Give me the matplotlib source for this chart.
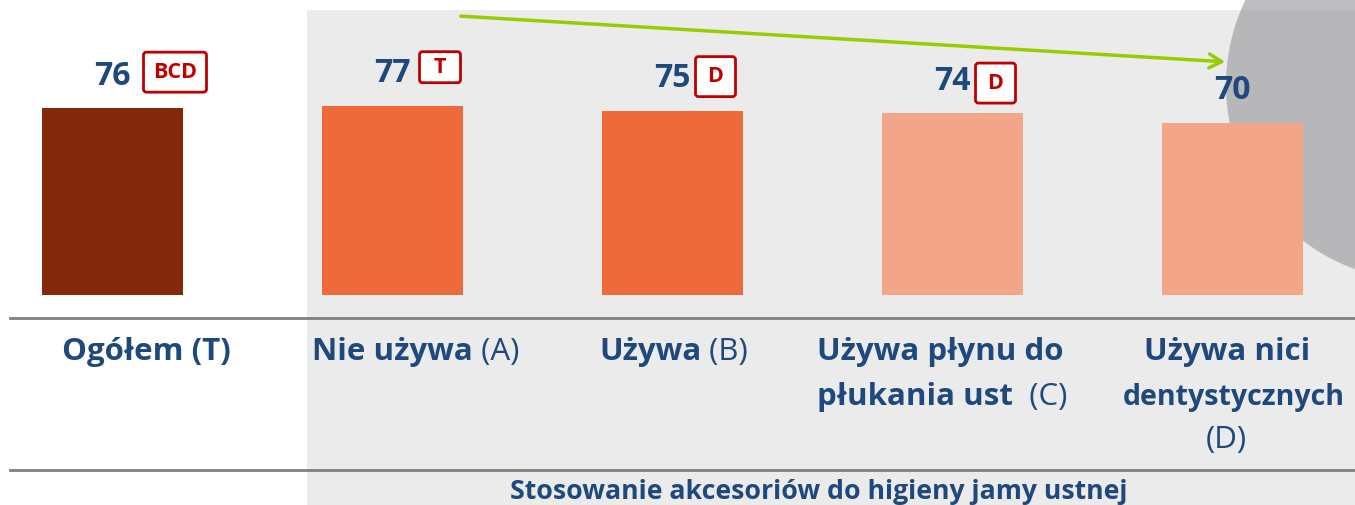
import matplotlib
matplotlib.use('Agg')
import matplotlib.pyplot as plt
import matplotlib.transforms as mtransforms
from matplotlib.patches import Rectangle, Circle, FancyArrowPatch, FancyBboxPatch
from matplotlib.lines import Line2D

plt.rcParams['font.family'] = ['Open Sans', 'DejaVu Sans']

# data
categories = ['Ogółem (T)', 'Nie używa (A)', 'Używa (B)',
              'Używa płynu do płukania ust (C)', 'Używa nici dentystycznych (D)']
values = [76, 77, 75, 74, 70]
sig_letters = ['BCD', 'T', 'D', 'D', '']
group_title = 'Stosowanie akcesoriów do higieny jamy ustnej'

bar_colors = ['#85290D', '#EE6A3A', '#EE6A3A', '#F3A587', '#F3A587']
blue = '#1F497D'
red = '#C00000'

W, H = 1355, 505
fig = plt.figure(figsize=(W / 100, H / 100), dpi=100)


def fx(x):
    return x / W


def fy(y):
    return 1 - y / H


# grey panel behind the grouped categories + the grey circle
fig.add_artist(Rectangle((fx(307), 0), 1 - fx(307), fy(10), transform=fig.transFigure,
                         fc='#EBEBEB', ec='none', zorder=-3))
fig.add_artist(Circle((14.22, 4.20), 1.96, transform=fig.dpi_scale_trans,
                      fc='#9B9C9E', ec='none', alpha=0.65, zorder=-2))

# bars
ax = fig.add_axes([0, fy(295), 1, 1 - fy(295)])
ax.patch.set_visible(False)
ax.axis('off')
ax.set_xlim(-0.4018, 4.4375)
ax.set_ylim(0, 120)
x = range(len(values))
ax.bar(x, values, width=0.503, color=bar_colors, zorder=2)

# value labels and significance boxes (box geometry in px relative to bar top centre)
box_left = [31, 27, 23, 23]
box_bottom = [16, 23, 14, 10]
box_w = [63, 41, 40, 40]
box_h = [40, 31, 40, 40]
for i, v in enumerate(values):
    ax.annotate(str(v), (i, v), xytext=(0, 32 * 0.72), textcoords='offset points',
                ha='center', va='center', fontsize=23, fontweight='bold', color=blue)
    if sig_letters[i]:
        tr = fig.dpi_scale_trans + mtransforms.ScaledTranslation(i, v, ax.transData)
        ax.add_artist(FancyBboxPatch((box_left[i] / 100, box_bottom[i] / 100),
                                     box_w[i] / 100, box_h[i] / 100,
                                     boxstyle='round,pad=0,rounding_size=0.03',
                                     fc='white', ec=red, lw=2, transform=tr,
                                     clip_on=False, zorder=3))
        ax.text((box_left[i] + box_w[i] / 2) / 100, (box_bottom[i] + box_h[i] / 2) / 100,
                sig_letters[i], transform=tr, ha='center', va='center',
                fontsize=15.5, fontweight='bold', color=red, zorder=4)

# separator lines
for yy in (318, 470):
    fig.add_artist(Line2D([fx(10), 1], [fy(yy), fy(yy)], color='#808080', lw=2,
                          transform=fig.transFigure))

# category labels (bold part + regular part)
fs = 22.5
lab = dict(fontsize=fs, color=blue, va='center')


def add_regular(after, txt):
    fig.add_artist(plt.Annotation(txt, xy=(1, 0), xycoords=after, va='bottom', ha='left',
                                  fontsize=fs, color=blue))


fig.text(fx(62), fy(352), 'Ogółem (T)', ha='left', fontweight='bold', **lab)

t = fig.text(fx(312), fy(352), 'Nie używa', ha='left', fontweight='bold', **lab)
add_regular(t, ' (A)')

t = fig.text(fx(599), fy(352), 'Używa', ha='left', fontweight='bold', **lab)
add_regular(t, ' (B)')

fig.text(fx(940), fy(352), 'Używa płynu do', ha='center', fontweight='bold', **lab)
t = fig.text(fx(817), fy(397), 'płukania ust', ha='left', fontweight='bold', **lab)
add_regular(t, '  (C)')

fig.text(fx(1227), fy(352), 'Używa nici', ha='center', fontweight='bold', **lab)
fig.text(fx(1234), fy(397), 'dentystycznych', ha='center', fontweight='bold',
         fontsize=20.5, color=blue, va='center')
fig.text(fx(1226), fy(440), '(D)', ha='center', **lab)

# group title
fig.text(fx(819), fy(499), group_title, ha='center', va='baseline',
         fontsize=19.2, fontweight='bold', color=blue)

# trend arrow
fig.add_artist(FancyArrowPatch((fx(458), fy(16)), (fx(1228), fy(62)),
                               transform=fig.transFigure,
                               arrowstyle='->,head_length=9,head_width=5',
                               color='#99CC00', lw=2.5, zorder=1))

fig.savefig('out.png', dpi=100)
